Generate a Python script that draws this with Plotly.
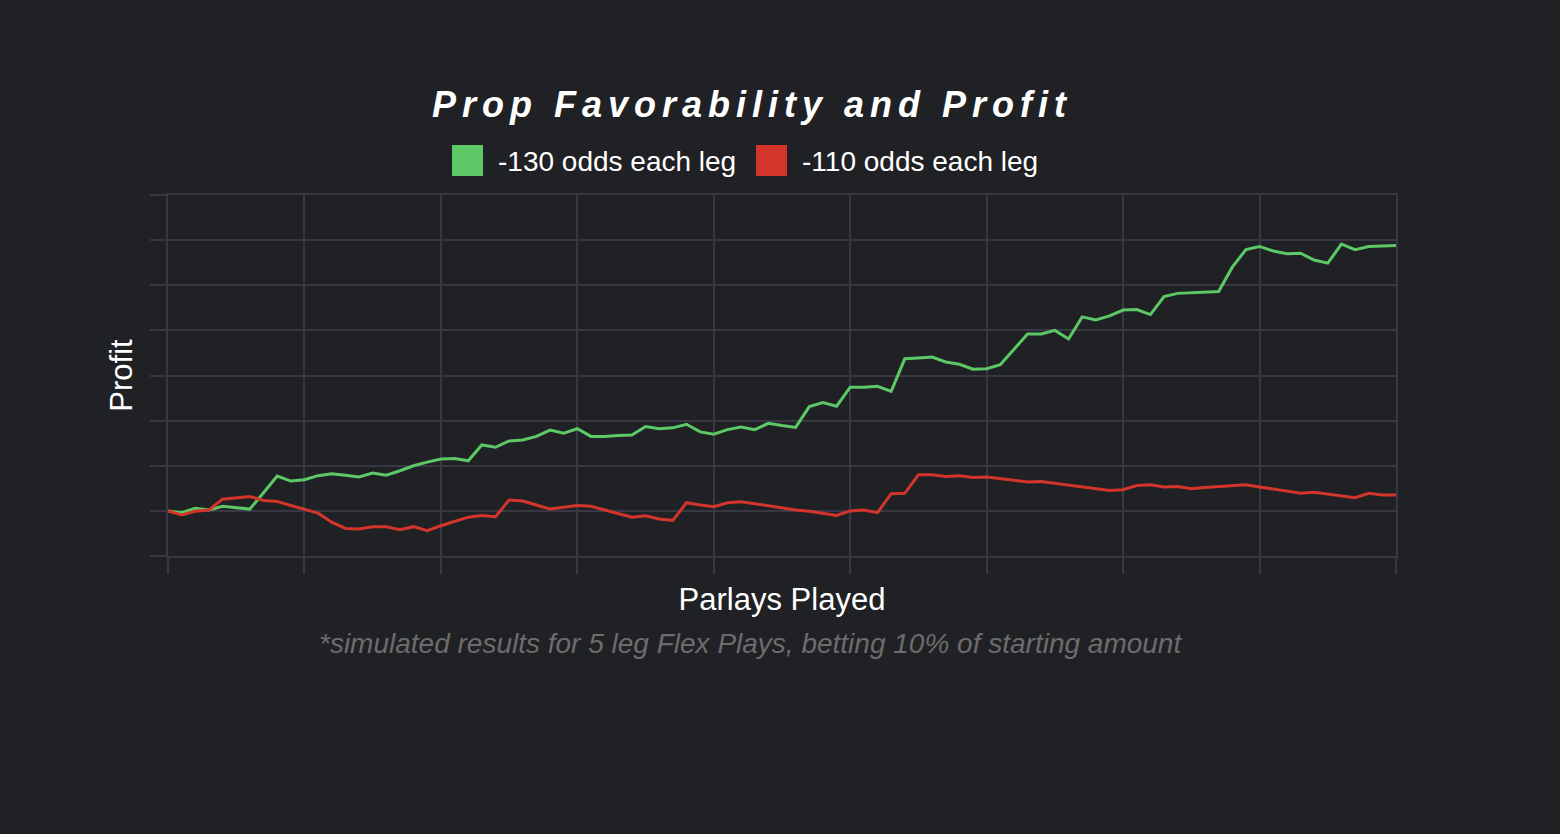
import plotly.graph_objects as go

# ---- data (profit, one gridline = 100) ----
parlays = list(range(0, 91))

profit_130 = [
    0, -4, 6, 2, 10, 7, 4, 40, 77, 66,
    69, 78, 82, 79, 75, 84, 79, 89, 100, 108,
    115, 116, 111, 146, 141, 155, 157, 165, 179, 172,
    182, 165, 165, 167, 168, 187, 182, 184, 192, 175,
    170, 180, 186, 180, 194, 189, 185, 231, 240, 232,
    274, 274, 276, 265, 337, 339, 341, 330, 325, 314,
    315, 324, 358, 392, 392, 400, 381, 430, 423, 432,
    445, 446, 435, 475, 482, 483, 485, 486, 540, 579,
    586, 576, 570, 571, 556, 549, 591, 579, 586, 587,
    588,
]

profit_110 = [
    0, -9, -1, 2, 26, 29, 32, 23, 21, 12,
    4, -5, -25, -39, -40, -35, -35, -42, -35, -44,
    -33, -24, -14, -10, -13, 24, 22, 13, 4, 8,
    12, 10, 2, -6, -14, -11, -18, -21, 18, 13,
    9, 18, 20, 16, 11, 7, 2, -1, -6, -10,
    0, 2, -4, 38, 39, 80, 80, 76, 78, 74,
    75, 71, 67, 64, 65, 61, 58, 54, 50, 45,
    47, 56, 58, 53, 54, 49, 52, 54, 56, 58,
    53, 48, 44, 39, 41, 37, 33, 29, 39, 35,
    35,
]

series_names = ["-130 odds each leg", "-110 odds each leg"]
series_colors = ["#5cc866", "#d3352b"]

title_text = "Prop Favorability and Profit"
x_title = "Parlays Played"
y_title = "Profit"
footnote = "*simulated results for 5 leg Flex Plays, betting 10% of starting amount"

# ---- layout geometry (pixels) ----
W, H = 1560, 834
L, R, T, B = 168, 1396, 195, 556
BG = "#202124"
GRID = "#383844"
FONT = "Liberation Sans, Arial, Helvetica, sans-serif"


def px(xp):
    return (xp - L) / (R - L)


def py(yp):
    return (B - yp) / (B - T)


fig = go.Figure()
for name, vals, col in zip(series_names, [profit_130, profit_110], series_colors):
    fig.add_trace(go.Scatter(
        x=parlays, y=vals, mode="lines", name=name,
        line=dict(color=col, width=3), showlegend=False,
    ))

# manual legend (square swatches)
legend_items = [(452, series_names[0], series_colors[0]),
                (756, series_names[1], series_colors[1])]
shapes = []
annotations = []
for x0, name, col in legend_items:
    shapes.append(dict(type="rect", xref="paper", yref="paper",
                       x0=px(x0), x1=px(x0 + 31), y0=py(176), y1=py(145),
                       fillcolor=col, line=dict(width=0), layer="above"))
    annotations.append(dict(text=name, xref="paper", yref="paper",
                            x=px(x0 + 44), y=py(161), xanchor="left", yanchor="middle",
                            showarrow=False, font=dict(size=28, color="white", family=FONT)))

annotations.append(dict(text="<i>" + footnote + "</i>", xref="paper", yref="paper",
                        x=px(750), y=py(643), xanchor="center", yanchor="middle",
                        showarrow=False, font=dict(size=28, color="#6c6c6c", family=FONT)))

axis_common = dict(
    showgrid=True, gridcolor=GRID, gridwidth=2,
    zeroline=False, showline=True, mirror=True, linecolor=GRID, linewidth=2,
    ticks="outside", ticklen=16, tickwidth=2,
    tickcolor=GRID, showticklabels=False, fixedrange=True,
)

fig.update_layout(
    width=W, height=H,
    paper_bgcolor=BG, plot_bgcolor=BG,
    margin=dict(l=L, r=W - R, t=T, b=H - B, autoexpand=False),
    font=dict(family=FONT, color="white"),
    title=dict(
        text='<span style="letter-spacing:6px"><b><i>' + title_text + '</i></b></span>',
        x=752 / W, xanchor="center", y=1 - 104 / H, yanchor="middle",
        font=dict(size=36, color="white", family=FONT),
    ),
    xaxis=dict(
        range=[0, 90], dtick=10, tick0=0, **axis_common,
        title=dict(text=x_title, font=dict(size=31, color="white", family=FONT), standoff=15),
    ),
    yaxis=dict(
        range=[-100, 700], dtick=100, tick0=0, **axis_common,
        title=dict(text=y_title, font=dict(size=31, color="white", family=FONT), standoff=8),
    ),
    shapes=shapes,
    annotations=annotations,
)

fig.write_html("out.html", config={"displayModeBar": False})
